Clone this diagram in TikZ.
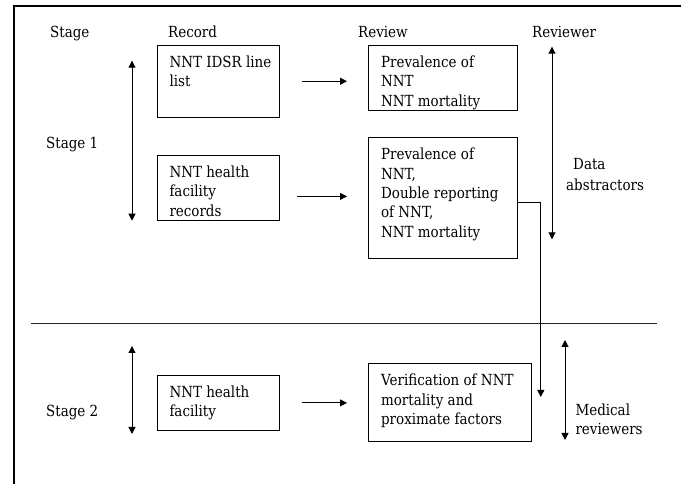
\documentclass[tikz,border=0pt]{standalone}
\usepackage{fontspec}
\setmainfont{DejaVu Serif}[FakeStretch=0.88]
\usetikzlibrary{arrows.meta,calc}
\newcommand\dfont{\fontsize{15.3}{19.3}\selectfont}
\newcommand\boxtxt[3]{\parbox[c][#2][t]{#1}{\raggedright\leftskip=12.4pt\relax\vspace*{10.5pt}#3}}
\tikzset{
  lbl/.style={font=\dfont, inner sep=0pt, anchor=base west},
  box/.style={draw, line width=0.8pt, inner sep=0pt, anchor=north west, font=\dfont},
  arr/.style={line width=1pt, -{Triangle[length=7pt,width=7pt]}},
  darr/.style={line width=1pt, {Triangle[length=7pt,width=7pt]}-{Triangle[length=7pt,width=7pt]}},
  frame/.style={line width=2.2pt, line join=miter},
  sep/.style={line width=0.9pt, draw=black!85}
}
\begin{document}
\begin{tikzpicture}[x=1pt,y=1pt]
\useasboundingbox (0,0) rectangle (681,484);
% frame
\draw[frame] (14,0) -- (14,477.7) -- (681,477.7);
% headers
\node[lbl] (hstage) at (50,446.7) {Stage};
\node[lbl] (hrec) at (168,446.7) {Record};
\node[lbl] (hrev) at (358,446.7) {Review};
\node[lbl] (hrevr) at (532,446.7) {Reviewer};
\node[lbl] (st1) at (46,335) {Stage 1};
\node[lbl] (st2) at (46,67.3) {Stage 2};
\node[lbl] (da1) at (573,314) {Data};
\node[lbl] (da2) at (566,293.3) {abstractors};
\node[lbl] (mr1) at (575.3,68) {Medical};
\node[lbl] (mr2) at (575.3,49.7) {reviewers};
% boxes
\node[box] (b1) at (156.7,439) {\boxtxt{122.6pt}{71.7pt}{NNT IDSR line\\list}};
\node[box] (b2) at (368.3,439) {\boxtxt{149pt}{65pt}{Prevalence of\\NNT\\NNT mortality}};
\node[box] (b3) at (156.7,329) {\boxtxt{122.6pt}{65pt}{NNT health\\facility\\records}};
\node[box] (b4) at (368.3,346.7) {\boxtxt{149pt}{121pt}{Prevalence of\\NNT,\\Double reporting\\of NNT,\\NNT mortality}};
\node[box] (b5) at (156.7,109) {\boxtxt{122.6pt}{55pt}{NNT health\\facility}};
\node[box] (b6) at (368.3,120.7) {\boxtxt{162.7pt}{77.4pt}{Verification of NNT\\mortality and\\proximate factors}};
% separator
\coordinate (sepL) at (31,160.7);
\coordinate (sepR) at (657,160.7);
\draw[sep] (sepL) -- (sepR);
% double arrows
\coordinate (s1t) at (132,423.3);
\coordinate (s1b) at (132,263.3);
\coordinate (s2t) at (132,138);
\coordinate (s2b) at (132,50);
\coordinate (rvt) at (552,437.3);
\coordinate (rvb) at (552,244.7);
\coordinate (mdt) at (565,144);
\coordinate (mdb) at (565,44);
\draw[darr] (s1t) -- (s1b);
\draw[darr] (s2t) -- (s2b);
\draw[darr] (rvt) -- (rvb);
\draw[darr] (mdt) -- (mdb);
% arrows
\draw[arr] ($(b1.east)+(21.7,0)$) -- ($(b2.west |- b1.east)+(-21.3,0)$);
\draw[arr] ($(b3.east)+(16.7,-8.5)$) -- ($(b4.west |- b3.east)+(-21.3,-8.5)$);
\draw[arr] ($(b5.east)+(21.7,0)$) -- ($(b6.west |- b5.east)+(-21.3,0)$);
\draw[line width=0.9pt, -{Triangle[length=7pt,width=7pt]}] ($(b4.east)+(0,-4.2)$) -| ($(b6.north east)+(9,-33.7)$);
\end{tikzpicture}
\end{document}
